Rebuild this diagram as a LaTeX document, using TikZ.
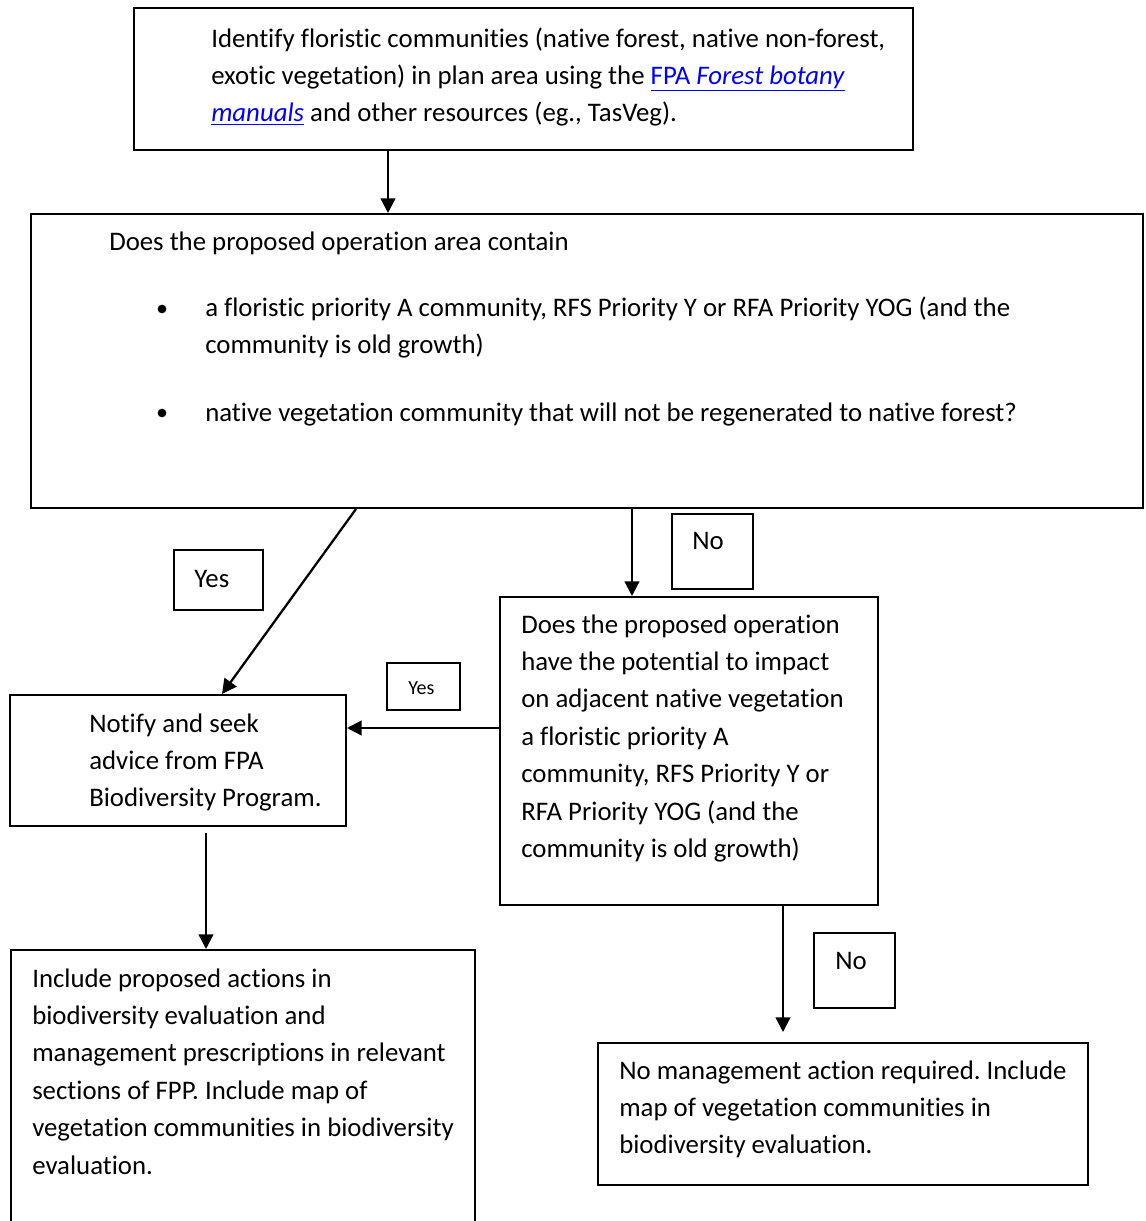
\documentclass[tikz,border=0pt]{standalone}
\usepackage{fontspec}
\setmainfont{Carlito}[Ligatures=NoCommon]
\usetikzlibrary{arrows.meta,fit}
\frenchspacing
\newcommand\tlines[1]{\begin{tabular}[t]{@{}l@{}}#1\end{tabular}}
\newcommand\lnk[1]{\textcolor{blue}{\underline{#1}}}
\begin{document}
\begin{tikzpicture}[x=0.75pt,y=-0.75pt,
  box/.style={draw, line width=1.5pt, inner sep=0pt},
  arr/.style={line width=1.7pt, -{Triangle[length=11pt,width=11pt]}},
  txt/.style={anchor=base west, inner sep=0pt, font=\fontsize{20.1pt}{28.1pt}\selectfont},
  smalltxt/.style={anchor=base west, inner sep=0pt, font=\fontsize{15pt}{18pt}\selectfont},
  bul/.style={circle, fill, inner sep=0pt, minimum size=6.5pt}]
\clip (0,0) rectangle (1146,1221);
\fill[white] (0,0) rectangle (1146,1221);

% boxes
\node[box, fit={(134,8) (913,150)}] (b1) {};
\node[box, fit={(31,214) (1143,508)}] (b2) {};
\node[box, fit={(174,550) (263,610)}] (yes1) {};
\node[box, fit={(672,514) (753,589)}] (no1) {};
\node[box, fit={(500,597) (878,905)}] (q2) {};
\node[box, fit={(387,663) (460,710)}] (yes2) {};
\node[box, fit={(10,695) (346,826)}] (notify) {};
\node[box, fit={(11,950) (475,1240)}] (incl) {};
\node[box, fit={(814,933) (895,1008)}] (no2) {};
\node[box, fit={(598,1043) (1088,1185)}] (fin) {};

% texts
\node[txt] (t1) at (211,47) {\tlines{Identify floristic communities (native forest, native non-forest,\\
exotic vegetation) in plan area using the \lnk{FPA \textit{Forest botany}}\\
\lnk{\textit{manuals}} and other resources (eg., TasVeg).}};
\node[txt] (t2) at (109,250) {Does the proposed operation area contain};
\node[bul] (bu1) at (162,309) {};
\node[txt] (t3) at (205,316) {\tlines{a floristic priority A community, RFS Priority Y or RFA Priority YOG (and the\\
community is old growth)}};
\node[bul] (bu2) at (162,413) {};
\node[txt] (t4) at (205,421) {native vegetation community that will not be regenerated to native forest?};
\node[txt] (tyes1) at (194,587) {Yes};
\node[txt] (tno1) at (692,549) {No};
\node[txt] (tq2) at (521,633) {\tlines{Does the proposed operation\\
have the potential to impact\\
on adjacent native vegetation\\
a floristic priority A\\
community, RFS Priority Y or\\
RFA Priority YOG (and the\\
community is old growth)}};
\node[smalltxt] (tyes2) at (408,694) {Yes};
\node[txt] (tnotify) at (89,732) {\tlines{Notify and seek\\
advice from FPA\\
Biodiversity Program.}};
\node[txt] (tincl) at (32,987) {\tlines{Include proposed actions in\\
biodiversity evaluation and\\
management prescriptions in relevant\\
sections of FPP. Include map of\\
vegetation communities in biodiversity\\
evaluation.}};
\node[txt] (tno2) at (835,969) {No};
\node[txt] (tfin) at (619,1079) {\tlines{No management action required. Include\\
map of vegetation communities in\\
biodiversity evaluation.}};

% helper x positions
\coordinate (x388) at (388,0);
\coordinate (x356) at (356,0);
\coordinate (x222) at (222,0);
\coordinate (x632) at (632,0);
\coordinate (y728) at (0,728);
\coordinate (x206) at (206,0);
\coordinate (x783) at (783,0);

% connectors
\draw[arr] (b1.south -| x388) -- (b2.north -| x388);
\draw[arr] (b2.south -| x356) -- (notify.north -| x222);
\draw[arr] (b2.south -| x632) -- (q2.north -| x632);
\draw[arr] (q2.west |- y728) -- (notify.east |- y728);
\draw[arr, shorten <=4.5pt] (notify.south -| x206) -- (incl.north -| x206);
\draw[arr, shorten >=7.5pt] (q2.south -| x783) -- (fin.north -| x783);
\end{tikzpicture}
\end{document}
